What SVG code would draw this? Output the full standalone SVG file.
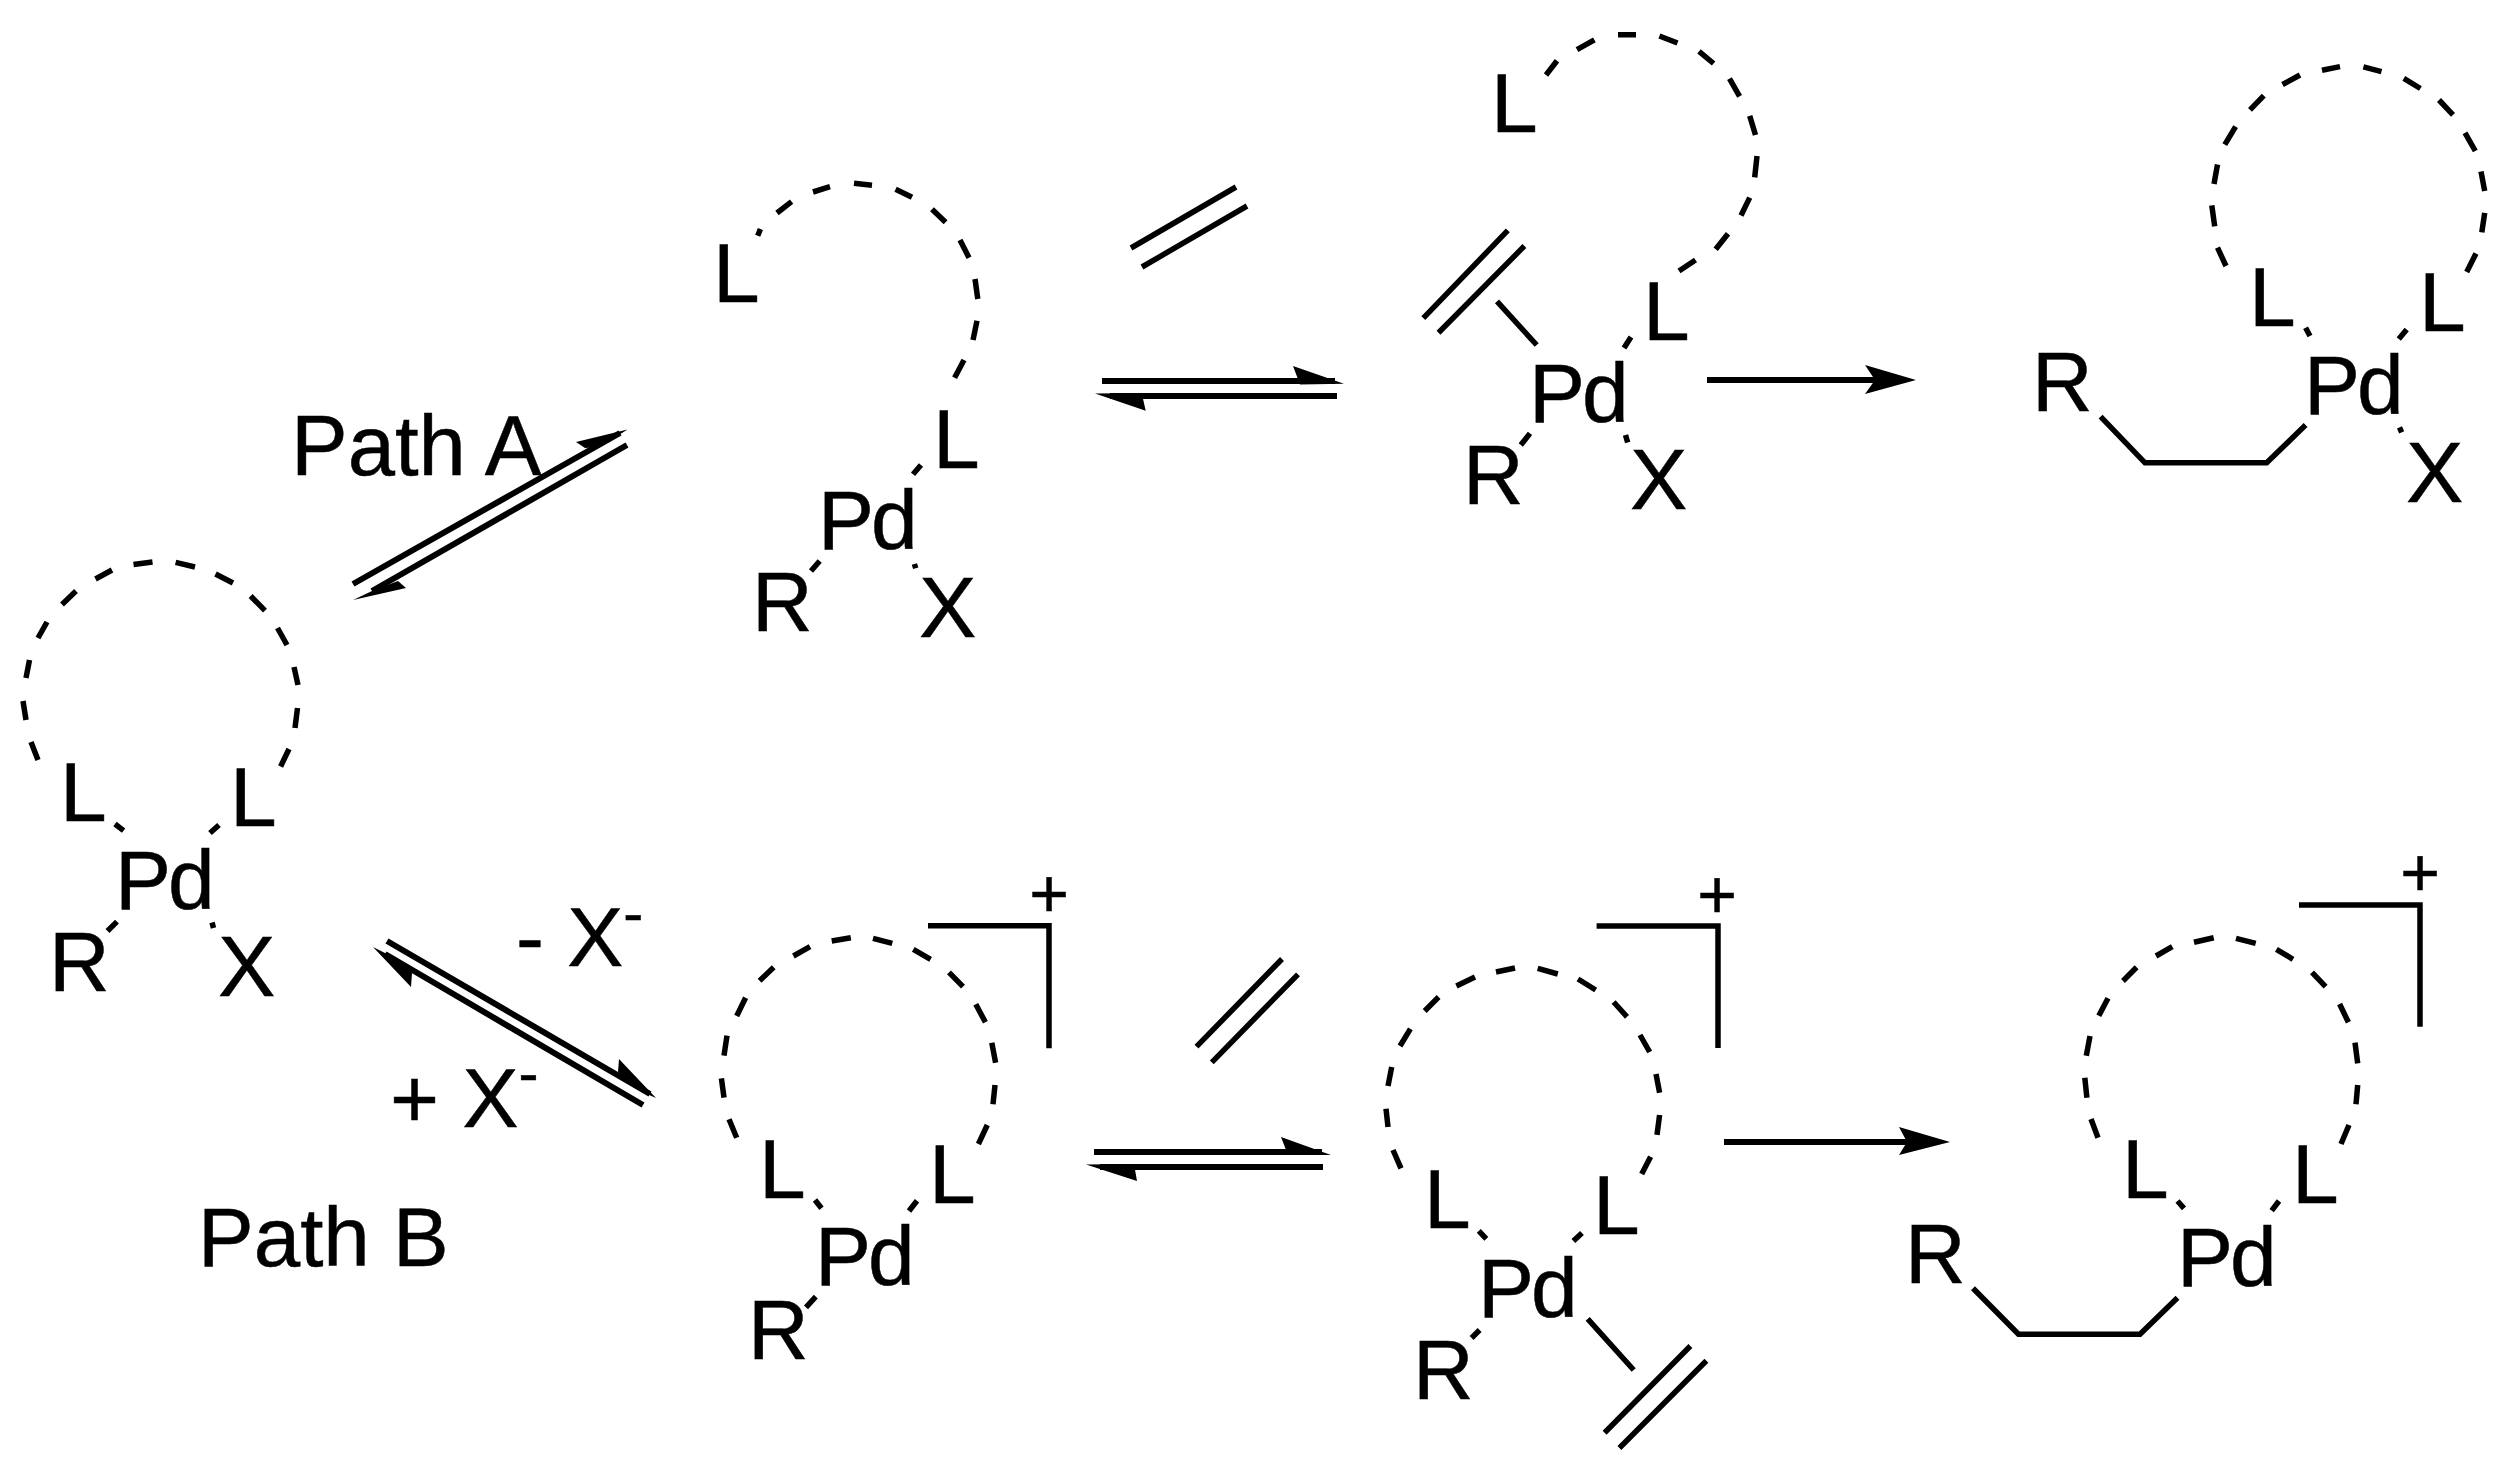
<svg xmlns="http://www.w3.org/2000/svg" width="2512" height="1475" viewBox="0 0 2512 1475">
<style>
text{font-family:"Liberation Sans",Arial,sans-serif;font-size:84px;fill:#000;stroke:#000;stroke-width:.5}
.d{fill:none;stroke:#000;stroke-width:5.5;stroke-linecap:butt}
.b{fill:none;stroke:#000;stroke-width:5.5;stroke-linejoin:miter;stroke-linecap:butt}
.a{fill:none;stroke:#000;stroke-width:6}
.h{fill:#000}
.s{font-size:60px}
.p{font-size:68px;text-anchor:middle}
.pd{letter-spacing:-3px}
.x{font-size:86px}
</style>
<rect width="2512" height="1475" fill="#fff"/>
<g id="connectors">
<g id="arrow-path-a"><path class="a" d="M353 584L620 433M627 445L372 591"/><path class="h" d="M627.5 429.5L576 442L585 448L600 447ZM353 600L406 588L398 581L372 591Z"/></g>
<g id="arrow-path-b"><path class="a" d="M387 941L650 1094M643 1105L385 954"/><path class="h" d="M656 1098L619 1059L618 1072L640 1091ZM373 947L411 987L412 973L395 958Z"/></g>
<g id="arrow-top-eq"><path class="a" d="M1102 381H1335M1337 396H1110"/><path class="h" d="M1344 383.7L1293 366L1300 384.5ZM1095 393.5L1145.7 410.7L1141.7 393Z"/></g>
<g id="arrow-bottom-eq"><path class="a" d="M1094 1152H1322M1323 1167H1100"/><path class="h" d="M1331 1155L1281 1137L1288 1155ZM1086 1164.5L1137 1181L1134 1164Z"/></g>
<g id="arrow-top-forward"><path class="a" d="M1707 380H1880"/><path class="h" d="M1916 380L1865 365L1875 380L1865 394Z"/></g>
<g id="arrow-bottom-forward"><path class="a" d="M1724 1142H1910"/><path class="h" d="M1950 1142L1899 1127L1907 1142L1899 1155Z"/></g>
</g>
<g id="label-path-a"><text x="291" y="475" font-size="85" style="font-size:85px">Path A</text></g>
<g id="label-path-b"><text x="198" y="1266" style="font-size:83.5px">Path B</text></g>
<g id="label-minus-x"><text x="516" y="966">- X<tspan class="s" dy="-33">-</tspan></text></g>
<g id="label-plus-x"><text x="390" y="1127">+ X<tspan class="s" dy="-34">-</tspan></text></g>
<g id="ethene-top"><path class="b" d="M1131 248L1236 187M1142 267L1247 206"/></g>
<g id="ethene-bottom"><path class="b" d="M1282 959L1196.5 1046.7M1298 974.3L1211.8 1062.3"/></g>
<g id="complex-start">
<path class="d" d="M38 760L31 742M26 720L23 701M26 678L29.5 660M38 638L47 622M62 604.5L76 591M95.5 579L112 570M133.5 564.5L152.5 562M175.6 562.4L195 567M215.5 574L233 583M250.6 596L265 610.6M277.5 628L287 645M294 667L298 685M297.5 708L295 728M289 749L280.6 766.5M115 824L123.6 830.6M219 825L210 833M117 921.6L107.5 931M212 922.5L213.5 928"/>
<text x="60" y="821">L</text><text x="230" y="826">L</text><text class="pd" x="115" y="909">Pd</text><text x="49" y="991">R</text><text class="x" x="218" y="996">X</text>
</g>
<g id="complex-a1">
<path class="d" d="M757.7 235.7L760.4 229M777 213L791.6 201.7M813 192L830 186.7M854 183.3L872 185.3M895.6 189.3L912 197.3M932 209.3L945.6 222.3M960 240L969 257.7M975 279L977.8 299M977 320.7L973 340M964 360L954.6 377.7M921 465L913 474.3M819.7 561L811 571M914.4 564L915.7 568.3"/>
<text x="713" y="302">L</text><text x="933" y="468">L</text><text class="pd" x="818" y="549">Pd</text><text x="752" y="631">R</text><text class="x" x="919" y="637">X</text>
</g>
<g id="complex-a2">
<path class="d" d="M1546 75L1557 60.8M1577 49.7L1594.4 39.9M1618 34.8L1636 34.8M1659.4 36L1677.5 43M1699 51.4L1713.6 63.5M1729.5 78.7L1739.6 96.3M1749.7 115.9L1755.5 135M1757 156L1754.7 177.4M1749.7 197.6L1741 215.5M1728 233.8L1715.7 249.3M1695.5 260L1679 271M1631 337L1624 348M1530 433.4L1520.8 445M1625.5 435L1627.7 442.6"/>
<path class="b" d="M1497 301.4L1536.7 345M1507.8 230.4L1423.3 318.2M1524.4 246L1438.5 332.8"/>
<text x="1491" y="132">L</text><text x="1643" y="340">L</text><text class="pd" x="1529" y="422">Pd</text><text x="1463" y="504">R</text><text class="x" x="1630" y="509">X</text>
</g>
<g id="complex-a3">
<path class="d" d="M2226 266L2217.5 247.6M2214.7 226.4L2211.8 205.4M2214 184L2217.5 164.5M2224.8 144.6L2235.6 126.7M2250 109.8L2263.8 95.6M2282.5 84.5L2300 75M2322 70.3L2340 66.6M2363.4 66.9L2381.5 71.6M2403.8 78.4L2420.4 88.5M2439 100L2453 114.9M2465 132.8L2475.3 151M2481 171.6L2484.7 190.9M2484.7 212.8L2481.8 232.4M2476 253.4L2466.7 272M2305.6 327.7L2310 336M2406.7 329.4L2398.8 338.9M2399.5 427.4L2401.7 432.4"/>
<path class="b" d="M2100.6 416.6L2145 462.8H2266.7L2305.6 425"/>
<text x="2249" y="326">L</text><text x="2419" y="331">L</text><text x="2032" y="411">R</text><text class="pd" x="2304" y="414">Pd</text><text class="x" x="2406" y="502">X</text>
</g>
<g id="complex-b1">
<path class="d" d="M736.7 1137.7L729 1119.3M724 1097.7L721.4 1078.3M724 1055.7L727 1035.7M736.7 1016L745.6 997.7M759.6 980.7L773.7 967.3M793.4 956L810 946.7M831.7 941L850.8 937.7M873 938.3L892.3 943.3M913.3 949.3L930.6 959.3M949 972.3L963 986.7M975.8 1004.3L985.4 1022.3M991.8 1042.7L995.6 1062.7M995 1085L993 1104.3M987.3 1125L978.4 1144M815 1200L821.5 1208.3M917 1200.7L909 1211M815.8 1296.7L806 1307.3"/>
<path class="b" d="M928 925.7H1049V1048.3"/>
<text class="p" x="1049" y="917">+</text>
<text x="759" y="1198">L</text><text x="929" y="1203">L</text><text class="pd" x="815" y="1285">Pd</text><text x="748" y="1359">R</text>
</g>
<g id="complex-b2">
<path class="d" d="M1401 1168.4L1393 1150M1388 1127L1386 1108.8M1388 1086L1391.7 1067M1400 1046L1410.4 1028.8M1424.7 1011L1438.6 997M1456.4 986L1475 977M1496 972L1515 968M1537.7 968.4L1557.8 974M1578 979L1595.7 990M1613.6 1002L1627 1016.8M1640 1035L1649.7 1052M1656 1074L1659.6 1092.8M1659.6 1115L1657 1134.8M1650.6 1156.8L1641.7 1174M1478.8 1230.8L1486.3 1238.8M1582 1233L1573.4 1241M1479.6 1330L1471.6 1338"/>
<path class="b" d="M1587.7 1318.8L1633.7 1370M1690.4 1346L1604.6 1432.8M1706.4 1360.8L1619.4 1448M1596.6 926H1718V1048"/>
<text class="p" x="1717" y="918">+</text>
<text x="1424" y="1228">L</text><text x="1593" y="1234">L</text><text class="pd" x="1478" y="1317">Pd</text><text x="1413" y="1399">R</text>
</g>
<g id="complex-b3">
<path class="d" d="M2098 1137.7L2091 1119M2086.9 1097.7L2084.8 1077.7M2086.3 1055.7L2090 1036M2098.8 1015.7L2108 998.3M2123 981L2136.6 967.3M2156 956L2172.3 946.7M2194 942.3L2213.7 937.7M2236 938.3L2255.7 943.3M2276.4 949.3L2293 959.3M2312 972.3L2325.6 986.7M2339.6 1004L2348.4 1022.3M2355 1042.7L2357.7 1063.3M2357.7 1085L2356 1104.3M2349 1125L2341 1144M2177.5 1201L2184 1208.3M2279 1201L2271.7 1210.7"/>
<path class="b" d="M1973 1288.3L2018.5 1334.3H2140L2177.5 1297.7M2299 905H2420V1026.7"/>
<text class="p" x="2420" y="896">+</text>
<text x="2122" y="1198">L</text><text x="2292" y="1203">L</text><text x="1905" y="1283">R</text><text class="pd" x="2177" y="1286">Pd</text>
</g>
</svg>
